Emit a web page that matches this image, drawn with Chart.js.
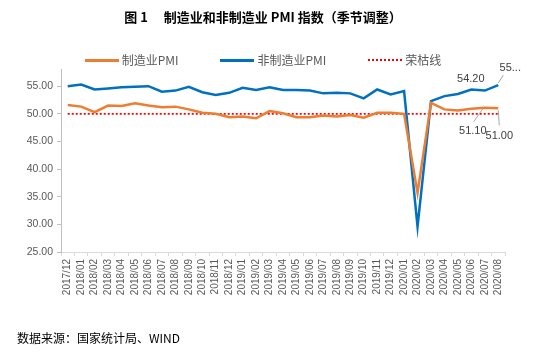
<!DOCTYPE html>
<html>
<head>
<meta charset="utf-8">
<script src="https://cdn.jsdelivr.net/npm/chart.js@4.4.0/dist/chart.umd.min.js"></script>
<style>
  body { margin: 0; background: #fff; }
  #wrap { position: relative; width: 550px; height: 352px; }
  #legend { position: absolute; left: 0; top: 51px; width: 526px; display: flex; justify-content: center; gap: 42px;
            font: 12px "Noto Sans CJK SC"; color: #595959; line-height: 18px; }
  #legend .item { display: flex; align-items: center; }
  #legend .ln { display: inline-block; width: 34px; margin-right: 3px; }
  #footer { position: absolute; left: 17px; top: 329px; font: 12px "Noto Sans CJK SC"; color: #000; }
</style>
</head>
<body>
<div id="wrap">
  <canvas id="pmiChart" width="550" height="352"></canvas>
  <div id="legend">
    <span class="item"><span class="ln" style="border-top:3px solid #ED7D31"></span>制造业PMI</span>
    <span class="item"><span class="ln" style="border-top:3px solid #0070C0"></span>非制造业PMI</span>
    <span class="item"><span class="ln" style="border-top:2px dotted #FF0000"></span>荣枯线</span>
  </div>
  <div id="footer">数据来源：国家统计局、WIND</div>
</div>
<script>
var months = ["2017/12",
  "2018/01", "2018/02", "2018/03", "2018/04", "2018/05", "2018/06", "2018/07", "2018/08", "2018/09", "2018/10", "2018/11", "2018/12",
  "2019/01", "2019/02", "2019/03", "2019/04", "2019/05", "2019/06", "2019/07", "2019/08", "2019/09", "2019/10", "2019/11", "2019/12",
  "2020/01", "2020/02", "2020/03", "2020/04", "2020/05", "2020/06", "2020/07", "2020/08"];

var mfgPMI = [51.6,
  51.3, 50.3, 51.5, 51.4, 51.9, 51.5, 51.2, 51.3, 50.8, 50.2, 50.0, 49.4,
  49.5, 49.2, 50.5, 50.1, 49.4, 49.4, 49.7, 49.5, 49.8, 49.3, 50.2, 50.2,
  50.0, 35.7, 52.0, 50.8, 50.6, 50.9, 51.1, 51.0];

var nonMfgPMI = [55.0,
  55.3, 54.4, 54.6, 54.8, 54.9, 55.0, 54.0, 54.2, 54.9, 53.9, 53.4, 53.8,
  54.7, 54.3, 54.8, 54.3, 54.3, 54.2, 53.7, 53.8, 53.7, 52.8, 54.4, 53.5,
  54.1, 29.6, 52.3, 53.2, 53.6, 54.4, 54.2, 55.2];

var yTicks = [25, 30, 35, 40, 45, 50, 55];
var ronkuValue = 50; // 荣枯线

// labels shown at the last two months
var pointLabels = [
  { ds: 1, idx: 31, text: "54.20", dx: -14, dy: -12, lead: null },
  { ds: 1, idx: 32, text: "55...", dx: 12, dy: -17, lead: [0, -2, 5, -10] },
  { ds: 0, idx: 31, text: "51.10", dx: -12, dy: 23, lead: [-2, 1, -11, 14] },
  { ds: 0, idx: 32, text: "51.00", dx: 1, dy: 28, lead: [0, 2, 1, 17] }
];

var labelPlugin = {
  id: "pointLabels",
  afterDatasetsDraw: function(chart) {
    var ctx = chart.ctx;
    ctx.save();
    ctx.font = "11px 'Liberation Sans'";
    ctx.fillStyle = "#404040";
    ctx.textAlign = "center";
    ctx.textBaseline = "middle";
    pointLabels.forEach(function(l) {
      var pt = chart.getDatasetMeta(l.ds).data[l.idx];
      if (l.lead) {
        ctx.strokeStyle = "#A6A6A6";
        ctx.lineWidth = 1;
        ctx.beginPath();
        ctx.moveTo(pt.x + l.lead[0], pt.y + l.lead[1]);
        ctx.lineTo(pt.x + l.lead[2], pt.y + l.lead[3]);
        ctx.stroke();
      }
      ctx.fillText(l.text, pt.x + l.dx, pt.y + l.dy);
    });
    ctx.restore();
  }
};

new Chart("pmiChart", {
  type: "line",
  data: {
    labels: months,
    datasets: [
      { label: "制造业PMI", data: mfgPMI, borderColor: "#ED7D31", borderWidth: 2.5, pointRadius: 0, tension: 0 },
      { label: "非制造业PMI", data: nonMfgPMI, borderColor: "#0070C0", borderWidth: 2.5, pointRadius: 0, tension: 0 },
      { label: "荣枯线", data: months.map(function() { return ronkuValue; }), borderColor: "#FF0000",
        borderWidth: 1.8, borderDash: [2, 2], pointRadius: 0, tension: 0 }
    ]
  },
  options: {
    responsive: false,
    animation: false,
    layout: { padding: { left: 21, right: 45, top: 0, bottom: 52 } },
    plugins: {
      legend: { display: false },
      tooltip: { enabled: false },
      title: {
        display: true,
        text: "图 1　 制造业和非制造业 PMI 指数（季节调整）",
        color: "#000",
        font: { size: 13, weight: "bold", family: "'Noto Sans CJK SC'" },
        padding: { top: 9, bottom: 45 }
      }
    },
    scales: {
      x: {
        offset: true,
        grid: { offset: true, drawOnChartArea: false, tickLength: 4, color: "#D9D9D9" },
        border: { color: "#D9D9D9" },
        ticks: { color: "#595959", font: { size: 10, family: "'Liberation Sans'" }, minRotation: 90, maxRotation: 90, autoSkip: false, padding: 3 },
        afterFit: function(s) { s.height = 48; }
      },
      y: {
        min: 25,
        max: 58,
        afterBuildTicks: function(s) { s.ticks = yTicks.map(function(v) { return { value: v }; }); },
        grid: { drawOnChartArea: false, tickLength: 4, color: "#BFBFBF" },
        border: { color: "#BFBFBF" },
        ticks: { color: "#595959", font: { size: 10.5, family: "'Liberation Sans'" }, padding: 4,
                 callback: function(v) { return v.toFixed(2); } },
        afterFit: function(s) { s.width = 40; }
      }
    }
  },
  plugins: [labelPlugin]
});
</script>
</body>
</html>
